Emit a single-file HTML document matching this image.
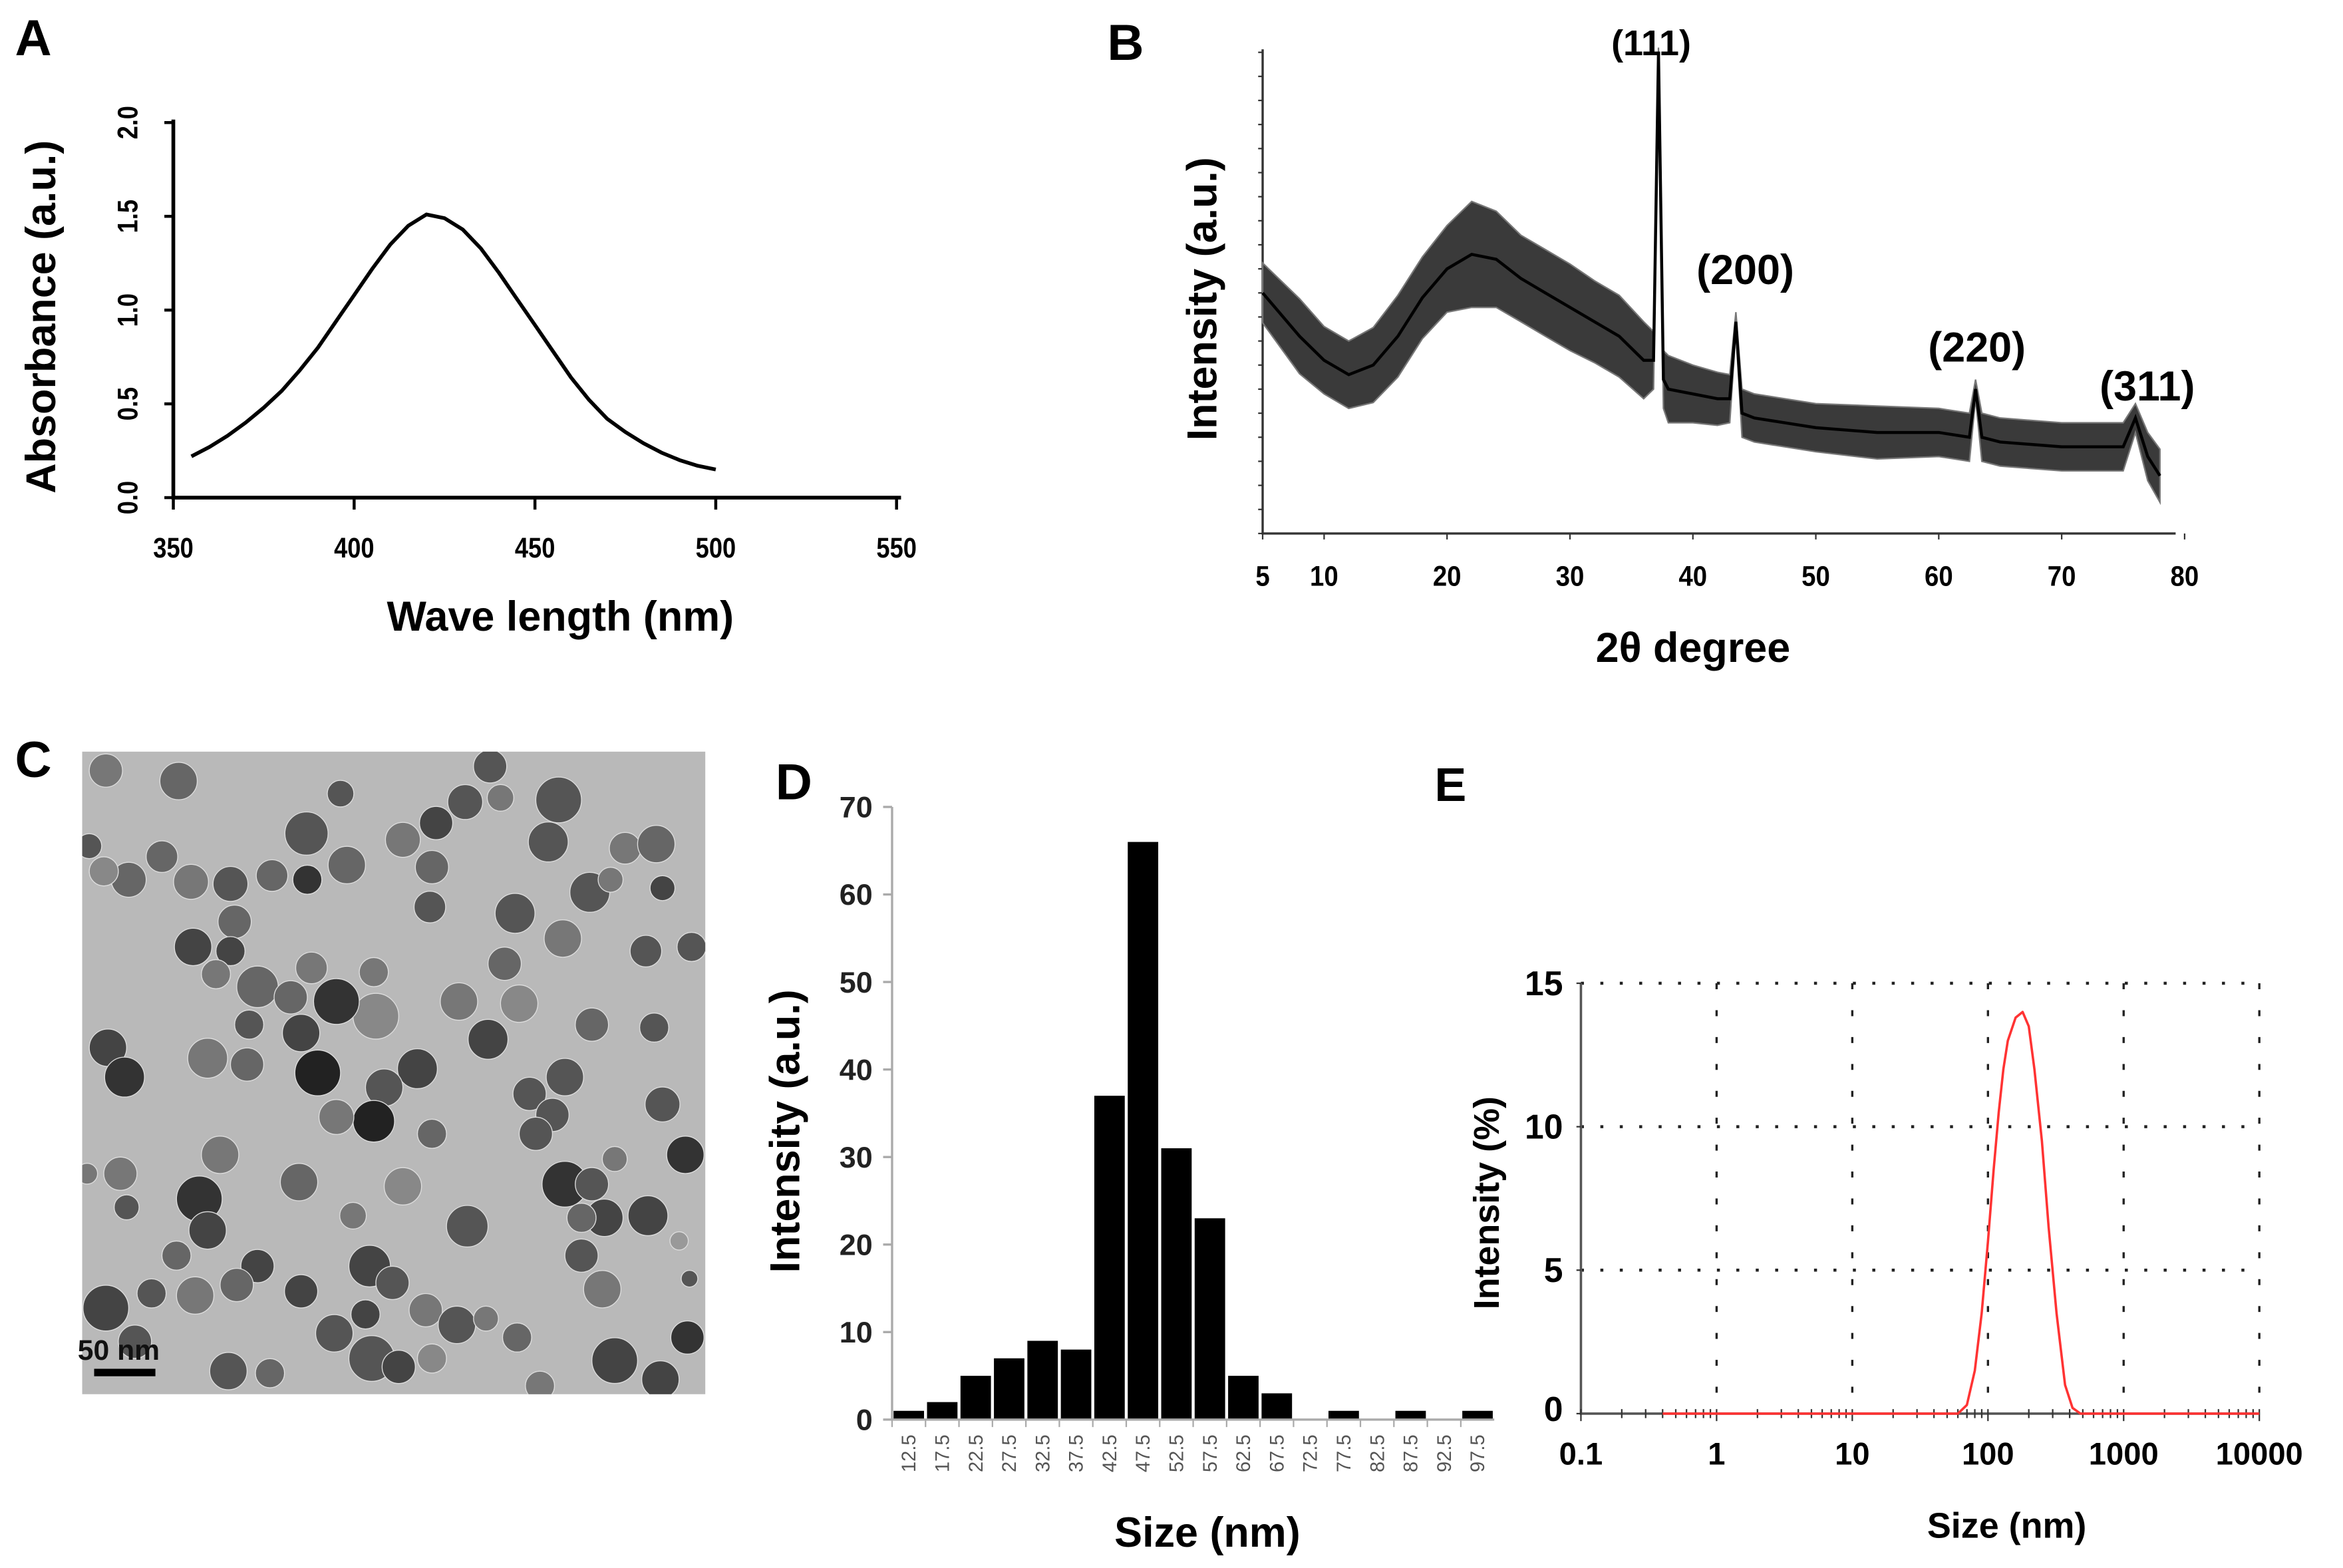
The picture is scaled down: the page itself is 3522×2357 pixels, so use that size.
<!DOCTYPE html>
<html><head><meta charset="utf-8"><style>
html,body{margin:0;padding:0;background:#fff}
svg{display:block}
text{font-family:"Liberation Sans",sans-serif}
</style></head><body>
<svg id="fig" xmlns="http://www.w3.org/2000/svg" width="3522" height="2357" viewBox="0 0 1568 1049.3">
<rect width="1568" height="1050" fill="#fff"/>
<g id="pA"></g>
<g id="pB"></g>
<g id="pC"></g>
<g id="pD"></g>
<g id="pE"></g>
</svg>
<script>
// ---- Panel A data
const aWave=[355,360,365,370,375,380,385,390,395,400,405,410,415,420,425,430,435,440,445,450,455,460,465,470,475,480,485,490,495,500];
const aAbs=[0.22,0.27,0.33,0.40,0.48,0.57,0.68,0.80,0.94,1.08,1.22,1.35,1.45,1.51,1.49,1.43,1.33,1.20,1.06,0.92,0.78,0.64,0.52,0.42,0.35,0.29,0.24,0.20,0.17,0.15];
const aXTicks=[350,400,450,500,550];
const aYTicks=["0.0","0.5","1.0","1.5","2.0"];
// ---- Panel B data
const bDeg=[5,8,10,12,14,16,18,20,22,24,26,28,30,32,34,36,36.8,37.2,37.6,38,40,42,43,43.5,44,45,50,55,60,62.5,63,63.5,65,70,75,76,77,78];
const bInt=[50,41,36,33,35,41,49,55,58,57,53,50,47,44,41,36,36,100,32,30,29,28,28,44,25,24,22,21,21,20,30,20,19,18,18,24,16,12];
const bNoise=[6.2,7.8,7,7,7.8,8.5,8.5,9,11,10,9,9,9,8.5,8.5,8,6,1,6,7,6,5.5,5,2,5,5,5,5.5,5,5,2,5,5,5,5,3,5,5.5];
const bXTicks=[5,10,20,30,40,50,60,70,80];
const bPeakLabels=["(111)","(200)","(220)","(311)"];
const bPeakPos=[37.2,43.5,63,76];
// ---- Panel D data
const dBins=["12.5","17.5","22.5","27.5","32.5","37.5","42.5","47.5","52.5","57.5","62.5","67.5","72.5","77.5","82.5","87.5","92.5","97.5"];
const dCounts=[1,2,5,7,9,8,37,66,31,23,5,3,0,1,0,1,0,1];
const dYTicks=[0,10,20,30,40,50,60,70];
// ---- Panel E data
const eSize=[0.4,60,70,80,90,100,110,120,130,140,160,180,200,220,250,280,320,370,420,480,10000];
const eInt=[0,0,0.3,1.5,3.5,6,8.5,10.5,12,13,13.8,14,13.5,12,9.5,6.5,3.5,1,0.2,0,0];
const eXTicks=["0.1","1","10","100","1000","10000"];
const eYTicks=[0,5,10,15];

const NS="http://www.w3.org/2000/svg";
function mk(parent,tag,attrs,txt){const e=document.createElementNS(NS,tag);for(const k in attrs)e.setAttribute(k,attrs[k]);if(txt!==undefined)e.textContent=txt;parent.appendChild(e);return e;}

// ================= Panel A
(function(){
const g=document.getElementById('pA');
const x=v=>116+(v-350)/200*484, y=v=>333-v/2*251;
let t=mk(g,'text',{x:10,y:37,'font-size':34,'font-weight':'bold'},'A');

let l=mk(g,'path',{d:`M116,80V333H603`,stroke:'#000','stroke-width':2.5,fill:'none'});

aXTicks.forEach(v=>{mk(g,'line',{x1:x(v),x2:x(v),y1:333,y2:341,stroke:'#000','stroke-width':2});
 t=mk(g,'text',{x:x(v),y:373,'font-size':19,'font-weight':'bold','text-anchor':'middle',transform:`translate(${x(v)},0) scale(0.85,1) translate(${-x(v)},0)`},v);
 });
aYTicks.forEach(s=>{const yy=y(parseFloat(s));mk(g,'line',{x1:110,x2:116,y1:yy,y2:yy,stroke:'#000','stroke-width':2});
 t=mk(g,'text',{x:0,y:0,'font-size':19,'font-weight':'bold','text-anchor':'middle',transform:`translate(92,${yy}) rotate(-90) scale(0.85,1)`},s);
 });
let d=aWave.map((w,i)=>(i?'L':'M')+x(w).toFixed(1)+','+y(aAbs[i]).toFixed(1)).join('');
l=mk(g,'path',{d,stroke:'#000','stroke-width':2.5,fill:'none','stroke-linejoin':'round'});

t=mk(g,'text',{x:0,y:0,'font-size':28,'font-weight':'bold','text-anchor':'middle',transform:'translate(37,212) rotate(-90)'},'Absorbance (a.u.)');

t=mk(g,'text',{x:375,y:422,'font-size':28,'font-weight':'bold','text-anchor':'middle'},'Wave length (nm)');

})();

// ================= Panel B
(function(){
const g=document.getElementById('pB');
const x=v=>845+(v-5)/75*617, y=v=>357-v/100*322;
let t=mk(g,'text',{x:741,y:40,'font-size':34,'font-weight':'bold'},'B');

let l=mk(g,'path',{d:'M845,33V357H1456',stroke:'#333','stroke-width':1.5,fill:'none'});

for(let i=0;i<=20;i++){const yy=357-i*16.1;mk(g,'line',{x1:842,x2:845,y1:yy,y2:yy,stroke:'#333','stroke-width':1});}
bXTicks.forEach(v=>{mk(g,'line',{x1:x(v),x2:x(v),y1:357,y2:361,stroke:'#333','stroke-width':1});
 t=mk(g,'text',{x:x(v),y:392,'font-size':19,'font-weight':'bold','text-anchor':'middle',transform:`translate(${x(v)},0) scale(0.9,1) translate(${-x(v)},0)`},v);
 });
let up=bDeg.map((d,i)=>x(d).toFixed(1)+','+y(bInt[i]+bNoise[i]).toFixed(1));
let dn=bDeg.map((d,i)=>x(d).toFixed(1)+','+y(bInt[i]-bNoise[i]).toFixed(1)).reverse();
l=mk(g,'polygon',{points:up.concat(dn).join(' '),fill:'#3a3a3a',stroke:'#777','stroke-width':1});

l=mk(g,'polyline',{points:bDeg.map((d,i)=>x(d).toFixed(1)+','+y(bInt[i]).toFixed(1)).join(' '),fill:'none',stroke:'#000','stroke-width':2});

const lp=[[1105,37,24],[1168,190,28],[1323,242,28],[1437,268,28]];
bPeakLabels.forEach((s,i)=>{t=mk(g,'text',{x:lp[i][0],y:lp[i][1],'font-size':lp[i][2],'font-weight':'bold','text-anchor':'middle'},s);
 });
t=mk(g,'text',{x:0,y:0,'font-size':28,'font-weight':'bold','text-anchor':'middle',transform:'translate(814,200) rotate(-90)'},'Intensity  (a.u.)');

t=mk(g,'text',{x:1133,y:443,'font-size':28,'font-weight':'bold','text-anchor':'middle'},'2θ degree');

})();

// ================= Panel C (TEM image, decorative)
(function(){
const g=document.getElementById('pC');
let t=mk(g,'text',{x:10,y:520,'font-size':34,'font-weight':'bold'},'C');

let r=mk(g,'rect',{x:55,y:503,width:417,height:430,fill:'#b9b9b9'});

const P=[[95,60,40,'#777'],[270,85,45,'#666'],[660,115,32,'#555'],[578,210,52,'#555'],[675,285,45,'#666'],[580,320,35,'#333'],[810,225,42,'#777'],[890,185,40,'#444'],[960,135,42,'#555'],[1045,125,32,'#777'],[1020,50,40,'#555'],[1185,130,55,'#555'],[1160,230,48,'#555'],[1345,245,38,'#777'],[1420,235,45,'#666'],[1260,350,48,'#555'],[1435,340,30,'#444'],[1310,320,30,'#777'],[880,290,40,'#666'],[875,385,38,'#555'],[1080,400,48,'#555'],[1195,460,45,'#777'],[1395,490,38,'#555'],[1505,480,35,'#555'],[1055,520,40,'#666'],[1090,615,45,'#888'],[945,610,45,'#777'],[1015,700,48,'#444'],[1265,665,40,'#666'],[1415,672,35,'#555'],[740,540,35,'#777'],[745,645,55,'#888'],[650,610,55,'#333'],[590,530,38,'#777'],[565,685,45,'#444'],[605,780,55,'#222'],[495,310,38,'#666'],[395,330,42,'#555'],[405,420,40,'#666'],[305,480,45,'#444'],[395,490,35,'#444'],[360,545,35,'#777'],[460,575,50,'#666'],[540,600,40,'#666'],[440,665,35,'#555'],[340,745,48,'#777'],[435,760,40,'#666'],[300,325,42,'#777'],[230,265,38,'#666'],[150,320,42,'#666'],[55,240,30,'#555'],[90,300,35,'#888'],[100,720,45,'#444'],[140,790,48,'#333'],[845,770,48,'#444'],[765,815,45,'#555'],[740,895,50,'#222'],[650,885,42,'#777'],[880,925,35,'#666'],[1115,830,40,'#555'],[1200,790,45,'#555'],[1170,880,40,'#555'],[1130,925,40,'#555'],[1435,855,42,'#555'],[1490,975,45,'#333'],[1320,985,30,'#777'],[1200,1045,55,'#333'],[1265,1045,40,'#555'],[1295,1125,45,'#444'],[1400,1120,48,'#444'],[1240,1125,35,'#666'],[1475,1180,22,'#999'],[1240,1215,40,'#555'],[1290,1295,45,'#777'],[1500,1270,20,'#555'],[370,975,45,'#777'],[130,1020,40,'#777'],[50,1020,25,'#777'],[320,1080,55,'#333'],[340,1155,45,'#444'],[145,1100,30,'#555'],[560,1040,45,'#666'],[810,1050,45,'#888'],[690,1120,32,'#777'],[965,1145,50,'#555'],[265,1215,35,'#666'],[460,1240,40,'#444'],[410,1285,40,'#666'],[565,1300,40,'#444'],[310,1310,45,'#777'],[205,1305,35,'#555'],[95,1340,55,'#444'],[165,1420,40,'#555'],[730,1240,50,'#444'],[785,1280,40,'#555'],[865,1345,40,'#777'],[720,1355,35,'#444'],[645,1400,45,'#555'],[735,1460,55,'#555'],[800,1480,40,'#444'],[940,1380,45,'#555'],[1010,1365,30,'#777'],[1085,1410,35,'#666'],[880,1460,35,'#888'],[390,1490,45,'#555'],[490,1495,35,'#666'],[1140,1525,35,'#777'],[1320,1465,55,'#444'],[1430,1510,45,'#444'],[1495,1410,40,'#333']];
mk(g,'clipPath',{id:'temclip'});document.getElementById('temclip').appendChild(Object.assign(document.createElementNS(NS,'rect'),{}));
const cr=document.getElementById('temclip').firstChild;cr.setAttribute('x',55);cr.setAttribute('y',503);cr.setAttribute('width',417);cr.setAttribute('height',430);
const pg=mk(g,'g',{'clip-path':'url(#temclip)'});
P.forEach(p=>{const c=mk(pg,'circle',{cx:55+(p[0]-38)/1500*417,cy:503+(p[1]-15)/1530*430,r:p[2]/1500*417,fill:p[3],stroke:'#ddd','stroke-width':0.6});
 });
r=mk(g,'rect',{x:63,y:916,width:41,height:5,fill:'#000'});

t=mk(g,'text',{x:52,y:910,'font-size':19,'font-weight':'bold',fill:'#111'},'50 nm');

})();

// ================= Panel D
(function(){
const g=document.getElementById('pD');
const X0=597,W=403/dBins.length, y=v=>950-v/70*410;
let t=mk(g,'text',{x:519,y:535,'font-size':34,'font-weight':'bold'},'D');

dCounts.forEach((c,i)=>{const r=mk(g,'rect',{x:X0+i*W+1,y:y(c),width:W-2,height:950-y(c),fill:'#000'});
 });
let l=mk(g,'path',{d:`M597,540V950H1000`,stroke:'#aaa','stroke-width':1.5,fill:'none'});

dYTicks.forEach(v=>{mk(g,'line',{x1:591,x2:597,y1:y(v),y2:y(v),stroke:'#aaa','stroke-width':1.5});
 t=mk(g,'text',{x:584,y:y(v)+7,'font-size':20,'font-weight':'bold','text-anchor':'end',fill:'#222'},v);
 });
dBins.forEach((s,i)=>{const cx=X0+(i+0.5)*W;mk(g,'line',{x1:X0+i*W,x2:X0+i*W,y1:950,y2:955,stroke:'#aaa','stroke-width':1});
 t=mk(g,'text',{x:0,y:0,'font-size':13,fill:'#555','text-anchor':'end',transform:`translate(${cx+4.5},960) rotate(-90)`},s);
 });
t=mk(g,'text',{x:0,y:0,'font-size':28,'font-weight':'bold','text-anchor':'middle',transform:'translate(535,757) rotate(-90)'},'Intensity (a.u.)');

t=mk(g,'text',{x:808,y:1035,'font-size':28,'font-weight':'bold','text-anchor':'middle'},'Size (nm)');

})();

// ================= Panel E
(function(){
const g=document.getElementById('pE');
const x=v=>1058+(Math.log10(v)+1)/5*454, y=v=>946-v/15*288;
let t=mk(g,'text',{x:960,y:536,'font-size':32,'font-weight':'bold'},'E');

[5,10,15].forEach(v=>{const l=mk(g,'line',{x1:1058,x2:1512,y1:y(v),y2:y(v),stroke:'#222','stroke-width':2,'stroke-dasharray':'2,11'});
 });
eXTicks.slice(1).forEach(s=>{const xx=x(parseFloat(s));const l=mk(g,'line',{x1:xx,x2:xx,y1:658,y2:946,stroke:'#222','stroke-width':1.5,'stroke-dasharray':'4,14'});
 });
let l=mk(g,'path',{d:'M1058,658V946H1512',stroke:'#555','stroke-width':1.6,fill:'none'});

for(let dec=-1;dec<4;dec++)for(let m=1;m<10;m++){const xx=x(m*Math.pow(10,dec));mk(g,'line',{x1:xx,x2:xx,y1:943,y2:m==1?951:949,stroke:'#333','stroke-width':1});}
mk(g,'line',{x1:1512,x2:1512,y1:943,y2:951,stroke:'#333','stroke-width':1});
eXTicks.forEach(s=>{t=mk(g,'text',{x:x(parseFloat(s)),y:980,'font-size':21,'font-weight':'bold','text-anchor':'middle'},s);
 });
eYTicks.forEach(v=>{mk(g,'line',{x1:1055,x2:1058,y1:y(v),y2:y(v),stroke:'#333','stroke-width':1});
 t=mk(g,'text',{x:1046,y:y(v)+(v==0?5:8),'font-size':23,'font-weight':'bold','text-anchor':'end'},v);
 });
l=mk(g,'polyline',{points:eSize.map((s,i)=>x(s).toFixed(1)+','+y(eInt[i]).toFixed(1)).join(' '),fill:'none',stroke:'#f33','stroke-width':1.6,'stroke-linejoin':'round'});

t=mk(g,'text',{x:0,y:0,'font-size':24,'font-weight':'bold','text-anchor':'middle',transform:'translate(1003,805) rotate(-90)'},'Intensity (%)');

t=mk(g,'text',{x:1343,y:1029,'font-size':24,'font-weight':'bold','text-anchor':'middle'},'Size (nm)');

})();
</script>
</body></html>
